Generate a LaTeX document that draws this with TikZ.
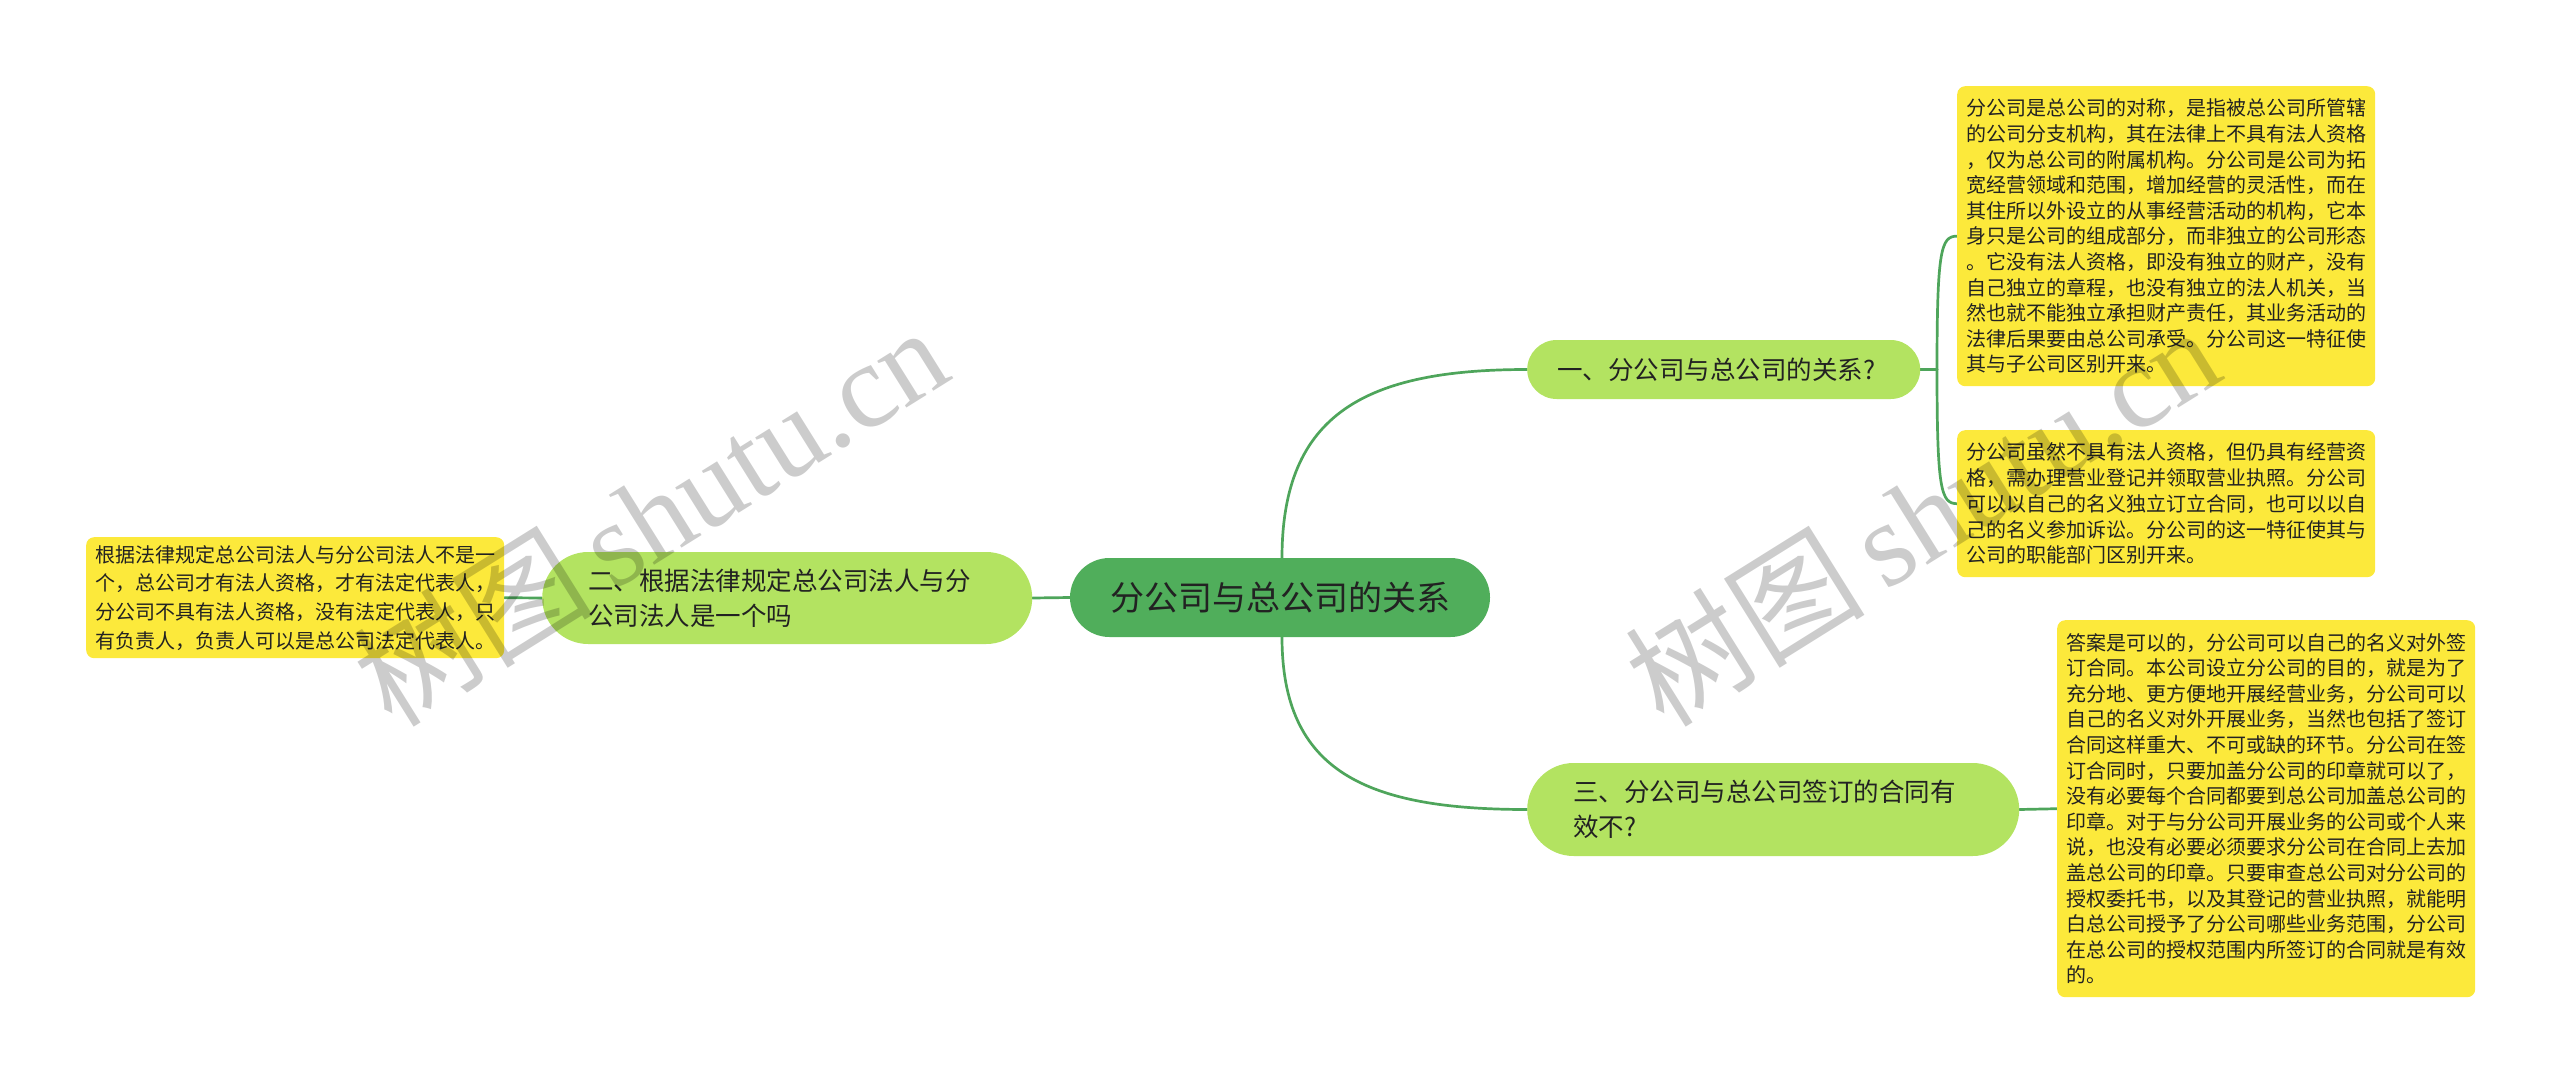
\documentclass[tikz,border=0pt]{standalone}
\usepackage{fontspec}
\setmainfont{Noto Sans CJK SC}
\newfontfamily\wmlatin{Liberation Serif}
\usetikzlibrary{backgrounds}
\definecolor{rootgreen}{HTML}{50AE5B}
\definecolor{branchgreen}{HTML}{B3E361}
\definecolor{leafyellow}{HTML}{FCE93B}
\definecolor{linegreen}{HTML}{4EA55B}
\definecolor{txt}{HTML}{222222}
\tikzset{
  rootbox/.style={fill=rootgreen, rounded corners=39.5pt, minimum width=420pt, minimum height=79pt,
    inner sep=0pt, text=txt, font=\fontsize{34}{40}\selectfont},
  branchbox/.style={fill=branchgreen, text=txt, align=left, inner ysep=0pt,
    font=\fontsize{25.5}{35}\selectfont},
  leafbox/.style={fill=leafyellow, rounded corners=8pt, inner xsep=9pt, inner ysep=0pt,
    text width=400pt, align=left, text=txt, anchor=north west},
  conn/.style={draw=linegreen, line width=2.7pt, line cap=round},
  wmark/.style={text=black, opacity=0.2, rotate=32, font=\fontsize{120}{120}\selectfont}
}
\begin{document}
\begin{tikzpicture}[x=1pt,y=-1pt]
\useasboundingbox (0,0) rectangle (2560,1084);

% root
\node[rootbox] (root) at (1280,597.5) {分公司与总公司的关系};

% branches
\node[branchbox, rounded corners=29.5pt, minimum height=59pt, inner xsep=30pt, text width=333pt, anchor=west]
  (b1) at (1527,369.5) {一、分公司与总公司的关系?};
\node[branchbox, rounded corners=46pt, minimum height=92pt, inner xsep=46pt, text width=398pt, anchor=west]
  (b2) at (542,598) {二、根据法律规定总公司法人与分\\公司法人是一个吗};
\node[branchbox, rounded corners=46.5pt, minimum height=93pt, inner xsep=46pt, text width=400pt, anchor=west]
  (b3) at (1527,809.5) {三、分公司与总公司签订的合同有\\效不?};

% leaves
\node[leafbox, minimum height=300pt, font=\fontsize{20}{25.6}\selectfont] (l1) at (1957,86) {%
分公司是总公司的对称，是指被总公司所管辖\\
的公司分支机构，其在法律上不具有法人资格\\
，仅为总公司的附属机构。分公司是公司为拓\\
宽经营领域和范围，增加经营的灵活性，而在\\
其住所以外设立的从事经营活动的机构，它本\\
身只是公司的组成部分，而非独立的公司形态\\
。它没有法人资格，即没有独立的财产，没有\\
自己独立的章程，也没有独立的法人机关，当\\
然也就不能独立承担财产责任，其业务活动的\\
法律后果要由总公司承受。分公司这一特征使\\
其与子公司区别开来。};

\node[leafbox, minimum height=147pt, font=\fontsize{20}{25.75}\selectfont] (l2) at (1957,430) {%
分公司虽然不具有法人资格，但仍具有经营资\\
格，需办理营业登记并领取营业执照。分公司\\
可以以自己的名义独立订立合同，也可以以自\\
己的名义参加诉讼。分公司的这一特征使其与\\
公司的职能部门区别开来。};

\node[leafbox, minimum height=377pt, font=\fontsize{20}{25.6}\selectfont] (l3) at (2057,620) {%
答案是可以的，分公司可以自己的名义对外签\\
订合同。本公司设立分公司的目的，就是为了\\
充分地、更方便地开展经营业务，分公司可以\\
自己的名义对外开展业务，当然也包括了签订\\
合同这样重大、不可或缺的环节。分公司在签\\
订合同时，只要加盖分公司的印章就可以了，\\
没有必要每个合同都要到总公司加盖总公司的\\
印章。对于与分公司开展业务的公司或个人来\\
说，也没有必要必须要求分公司在合同上去加\\
盖总公司的印章。只要审查总公司对分公司的\\
授权委托书，以及其登记的营业执照，就能明\\
白总公司授予了分公司哪些业务范围，分公司\\
在总公司的授权范围内所签订的合同就是有效\\
的。};

\node[leafbox, minimum height=121pt, font=\fontsize{20}{28.7}\selectfont] (l4) at (86,537) {%
根据法律规定总公司法人与分公司法人不是一\\
个，总公司才有法人资格，才有法定代表人，\\
分公司不具有法人资格，没有法定代表人，只\\
有负责人，负责人可以是总公司法定代表人。};

% connectors
\coordinate (j1) at (1937,369.5);
\begin{scope}[on background layer]
\draw[conn] ([xshift=2pt]root.north) .. controls +(0,-145) and +(-160,0) .. (b1.west);
\draw[conn] ([xshift=2pt]root.south) .. controls +(0,135) and +(-160,0) .. (b3.west);
\draw[conn] (root.west) -- (b2.east);
\draw[conn] (b2.west) -- (l4.east);
\draw[conn] (b3.east) -- (l3.west);
\draw[conn] (b1.east) -- (j1);
\draw[conn] (j1) .. controls (1937,250) and (1941,236) .. (l1.west);
\draw[conn] (j1) .. controls (1937,490) and (1941,503.5) .. (l2.west);
\end{scope}

% watermarks
\node[wmark] (w1) at (650,515) {树图\,{\wmlatin shutu.cn}};
\node[wmark] (w2) at (1922,515) {树图\,{\wmlatin shutu.cn}};
\end{tikzpicture}
\end{document}
